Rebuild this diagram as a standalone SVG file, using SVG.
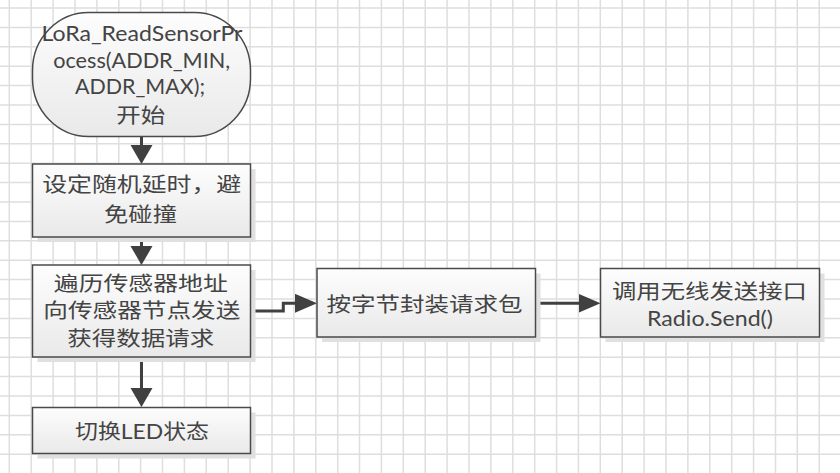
<svg xmlns="http://www.w3.org/2000/svg" width="840" height="473" viewBox="0 0 840 473">
<style>
.grid{stroke:#dedede;stroke-width:1.5;fill:none}
.shape{stroke:#4a4a4a;stroke-width:1.5;fill:url(#g)}
.shadow{fill:#e0e0e0;stroke:none}
.t{font-family:Lato,"Noto Sans CJK SC",sans-serif;font-size:20.5px;fill:#444444;text-anchor:middle}
.c{stroke:#404040;stroke-width:3;fill:none}
.cv{marker-end:url(#arrV)}
.ch{marker-end:url(#arrH)}
</style>
<defs>
<linearGradient id="g" x1="0" y1="0" x2="0" y2="1">
<stop offset="0" stop-color="#fdfdfd"/>
<stop offset="1" stop-color="#e9e9e9"/>
</linearGradient>
<marker id="arrV" markerUnits="userSpaceOnUse" markerWidth="22" markerHeight="24" refX="15" refY="11" orient="auto">
<path d="M0 0L19 11L0 22Z" fill="#404040"/>
</marker>
<marker id="arrH" markerUnits="userSpaceOnUse" markerWidth="24" markerHeight="22" refX="18" refY="9.5" orient="auto">
<path d="M0 0L22 9.5L0 19Z" fill="#404040"/>
</marker>
</defs>
<rect width="840" height="473" fill="#ffffff"/>
<path class="grid" d="M9.3 0V473M31.2 0V473M53.1 0V473M75 0V473M96.9 0V473M118.8 0V473M140.6 0V473M162.5 0V473M184.4 0V473M206.3 0V473M228.2 0V473M250.1 0V473M272 0V473M293.9 0V473M315.8 0V473M337.7 0V473M359.5 0V473M381.4 0V473M403.3 0V473M425.2 0V473M447.1 0V473M469 0V473M490.9 0V473M512.8 0V473M534.7 0V473M556.6 0V473M578.4 0V473M600.3 0V473M622.2 0V473M644.1 0V473M666 0V473M687.9 0V473M709.8 0V473M731.7 0V473M753.6 0V473M775.5 0V473M797.3 0V473M819.2 0V473M0 8H840M0 27.4H840M0 46.8H840M0 66.2H840M0 85.6H840M0 105H840M0 124.4H840M0 143.8H840M0 163.2H840M0 182.6H840M0 202H840M0 221.4H840M0 240.8H840M0 260.2H840M0 279.6H840M0 299H840M0 318.4H840M0 337.8H840M0 357.2H840M0 376.6H840M0 396H840M0 415.4H840M0 434.8H840M0 454.2H840"/>
<g id="connectors">
<path class="c cv" d="M141.5 137V160"/>
<path class="c cv" d="M141.5 237V261"/>
<path class="c cv" d="M141.5 357V403"/>
<path class="c ch" d="M250.5 311H283.3V303.3H313"/>
<path class="c ch" d="M535.5 303.3H596.5"/>
</g>
<g id="start">
<rect class="shape" x="32.5" y="12.5" width="218" height="124" rx="56" ry="58"/>
<text class="t" x="142" y="40.5" textLength="201" lengthAdjust="spacingAndGlyphs">LoRa_ReadSensorPr</text>
<text class="t" x="141.7" y="67.5" textLength="177" lengthAdjust="spacingAndGlyphs">ocess(ADDR_MIN,</text>
<text class="t" x="140" y="93.5" textLength="130" lengthAdjust="spacingAndGlyphs">ADDR_MAX);</text>
<text class="t" x="140.7" y="122.5" textLength="49" lengthAdjust="spacingAndGlyphs">开始</text>
</g>
<g id="delay">
<rect class="shadow" x="37.5" y="169" width="218" height="73"/>
<rect class="shape" x="32.5" y="164" width="218" height="73"/>
<text class="t" x="141.7" y="191.5" textLength="199" lengthAdjust="spacingAndGlyphs">设定随机延时，避</text>
<text class="t" x="140.5" y="222" textLength="73" lengthAdjust="spacingAndGlyphs">免碰撞</text>
</g>
<g id="traverse">
<rect class="shadow" x="37.5" y="270" width="218" height="92"/>
<rect class="shape" x="32.5" y="265" width="218" height="92"/>
<text class="t" x="140.8" y="290.5" textLength="174" lengthAdjust="spacingAndGlyphs">遍历传感器地址</text>
<text class="t" x="141.8" y="318" textLength="197" lengthAdjust="spacingAndGlyphs">向传感器节点发送</text>
<text class="t" x="140.8" y="345.5" textLength="147" lengthAdjust="spacingAndGlyphs">获得数据请求</text>
</g>
<g id="led">
<rect class="shadow" x="37.5" y="412.5" width="218" height="46"/>
<rect class="shape" x="32.5" y="407.5" width="218" height="46"/>
<text class="t" x="142" y="438.5" textLength="134" lengthAdjust="spacingAndGlyphs">切换LED状态</text>
</g>
<g id="pack">
<rect class="shadow" x="322" y="273.5" width="218.5" height="68.5"/>
<rect class="shape" x="317" y="268.5" width="218.5" height="68.5"/>
<text class="t" x="424.5" y="311.5" textLength="196" lengthAdjust="spacingAndGlyphs">按字节封装请求包</text>
</g>
<g id="send">
<rect class="shadow" x="605.5" y="273.5" width="219" height="68.5"/>
<rect class="shape" x="600.5" y="268.5" width="219" height="68.5"/>
<text class="t" x="709.5" y="298.5" textLength="195" lengthAdjust="spacingAndGlyphs">调用无线发送接口</text>
<text class="t" x="710" y="325.5" textLength="126" lengthAdjust="spacingAndGlyphs">Radio.Send()</text>
</g>
</svg>
